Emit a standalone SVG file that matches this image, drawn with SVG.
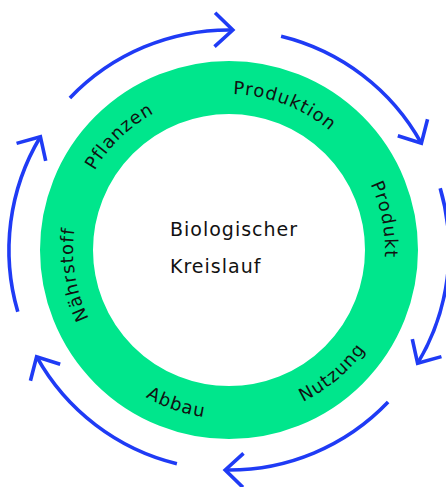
<svg xmlns="http://www.w3.org/2000/svg" width="446" height="487" viewBox="0 0 446 487">
<style>
.ring{fill:none;stroke:#00E68C;stroke-width:53}
.arc{fill:none;stroke:#1F3BF5;stroke-width:3.6;marker-end:url(#chev)}
.lbl{font-family:"DejaVu Sans",sans-serif;font-size:18px;letter-spacing:1px;fill:#111111}
.ctr{font-family:"DejaVu Sans",sans-serif;font-size:19px;letter-spacing:1px;fill:#111111}
</style>
<defs>
<marker id="chev" markerUnits="userSpaceOnUse" orient="auto" refX="0" refY="0" markerWidth="50" markerHeight="50" overflow="visible">
<path d="M-18,-17 L0,0 L-18,17" fill="none" stroke="#1F3BF5" stroke-width="3.6"/>
</marker>
<path id="pN" d="M173.1,395.6 A156,156 0 0 1 130.8,128.8"/>
<path id="pPf" d="M77.6,287.7 A156,156 0 0 1 272,100"/>
<path id="pPr" d="M130.8,128.8 A156,156 0 0 1 383.1,225.6"/>
<path id="pPk" d="M279.8,102.5 A156,156 0 0 1 331.4,367.7"/>
<path id="pNu" d="M171.2,408.8 A169,169 0 0 0 395.4,220.7"/>
<path id="pAb" d="M63.1,282.2 A169,169 0 0 0 339.9,377.5"/>
</defs>
<g id="ring">
<circle class="ring" cx="229" cy="250" r="162.5"/>
</g>
<g id="center">
<text class="ctr" x="170" y="236">Biologischer</text>
<text class="ctr" x="170" y="273">Kreislauf</text>
</g>
<g id="node-naehrstoff"><text class="lbl"><textPath href="#pN" startOffset="50%" text-anchor="middle">Nährstoff</textPath></text></g>
<g id="node-pflanzen"><text class="lbl"><textPath href="#pPf" startOffset="50%" text-anchor="middle">Pflanzen</textPath></text></g>
<g id="node-produktion"><text class="lbl"><textPath href="#pPr" startOffset="50%" text-anchor="middle">Produktion</textPath></text></g>
<g id="node-produkt"><text class="lbl"><textPath href="#pPk" startOffset="50%" text-anchor="middle">Produkt</textPath></text></g>
<g id="node-nutzung"><text class="lbl"><textPath href="#pNu" startOffset="50%" text-anchor="middle">Nutzung</textPath></text></g>
<g id="node-abbau"><text class="lbl"><textPath href="#pAb" startOffset="50%" text-anchor="middle">Abbau</textPath></text></g>
<g id="connectors">
<path class="arc" d="M69.9,98 A220,220 0 0 1 232.8,30"/>
<path class="arc" d="M281.1,36.2 A220,220 0 0 1 421.4,143.3"/>
<path class="arc" d="M440.2,188.2 A220,220 0 0 1 417.6,363.3"/>
<path class="arc" d="M388.1,402 A220,220 0 0 1 225.2,470"/>
<path class="arc" d="M176.9,463.8 A220,220 0 0 1 36.6,356.7"/>
<path class="arc" d="M17.8,311.8 A220,220 0 0 1 40.4,136.7"/>
</g>
</svg>
